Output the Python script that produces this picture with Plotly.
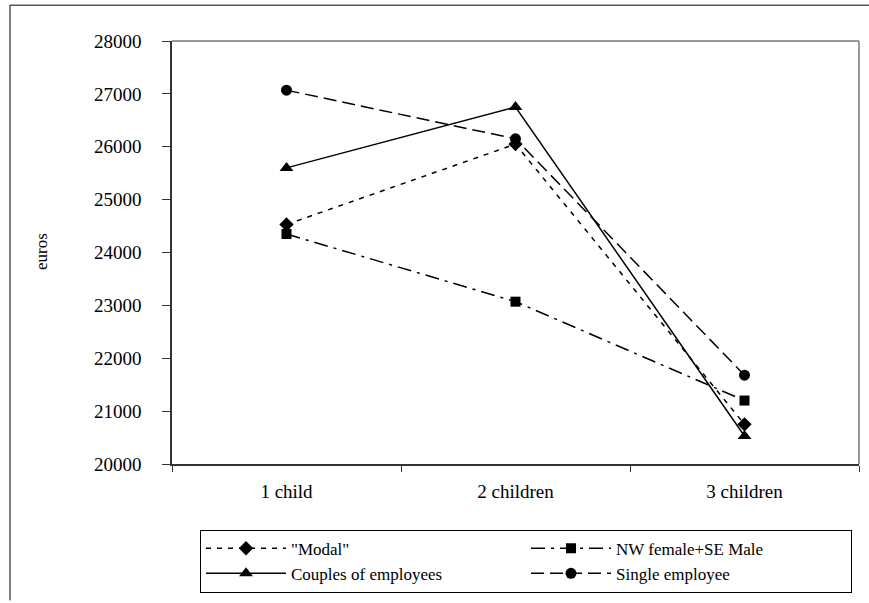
import plotly.graph_objects as go

categories = ["1 child", "2 children", "3 children"]
modal = [24530, 26050, 20750]
nw_female_se_male = [24350, 23070, 21200]
couples_employees = [25600, 26750, 20530]
single_employee = [27070, 26150, 21680]
y_ticks = [20000, 21000, 22000, 23000, 24000, 25000, 26000, 27000, 28000]

FONT = "Liberation Serif"
W, H = 869, 603
L, R, T, B = 172, 10, 41, 137
pw, ph = W - L - R, H - T - B

def px(x):
    return (x - L) / pw

def py(y):
    return (H - B - y) / ph

fig = go.Figure()
series = [
    ('"Modal"', modal, "5px,6px", "diamond", 11),
    ("NW female+SE Male", nw_female_se_male, "14px,6px,3px,6px", "square", 10),
    ("Couples of employees", couples_employees, "solid", "triangle-up", 12),
    ("Single employee", single_employee, "13px,6px", "circle", 11),
]
for name, vals, dash, sym, size in series:
    fig.add_trace(go.Scatter(
        x=categories, y=vals, name=name, mode="lines+markers",
        line=dict(color="black", width=1.5, dash=dash),
        marker=dict(symbol=sym, size=size, color="black"),
    ))

fig.update_layout(
    width=W, height=H,
    margin=dict(l=L, r=R, t=T, b=B, pad=0),
    paper_bgcolor="white", plot_bgcolor="white",
    font=dict(family=FONT, color="black", size=17),
    showlegend=True,
    legend=dict(
        orientation="h", x=px(200), y=py(532), xanchor="left", yanchor="top",
        bordercolor="black", borderwidth=1, bgcolor="white",
        font=dict(family=FONT, size=17, color="black"),
        itemwidth=80, entrywidth=230, entrywidthmode="pixels",
        tracegroupgap=0,
    ),
    xaxis=dict(
        type="category", range=[-0.5, 2.5], tickson="boundaries",
        ticks="outside", ticklen=6, tickcolor="#333", tickwidth=1,
        showline=True, linecolor="#333", linewidth=1.5,
        showgrid=False, zeroline=False,
        tickfont=dict(family=FONT, size=19), ticklabelstandoff=9,
    ),
    yaxis=dict(
        range=[20000, 28000], tickvals=y_ticks, tickformat="d",
        ticks="outside", ticklen=8, tickcolor="#333", tickwidth=1,
        showline=True, linecolor="#333", linewidth=1.5,
        showgrid=False, zeroline=False,
        tickfont=dict(family=FONT, size=19), ticklabelstandoff=17,
    ),
    annotations=[dict(
        text="euros", xref="paper", yref="paper", x=px(41), y=py(253),
        xanchor="center", yanchor="middle",
        textangle=-90, showarrow=False, font=dict(family=FONT, size=17),
    )],
    shapes=[
        dict(type="line", xref="paper", yref="paper", x0=0, x1=1, y0=1, y1=1,
             line=dict(color="#999", width=2)),
        dict(type="line", xref="paper", yref="paper", x0=1, x1=1, y0=0, y1=1,
             line=dict(color="#999", width=2)),
        dict(type="line", xref="paper", yref="paper", x0=px(10), x1=px(10),
             y0=py(5), y1=py(603), line=dict(color="black", width=1)),
        dict(type="line", xref="paper", yref="paper", x0=px(10), x1=px(869),
             y0=py(5), y1=py(5), line=dict(color="black", width=1)),
    ],
)

fig.write_html("out.html")
